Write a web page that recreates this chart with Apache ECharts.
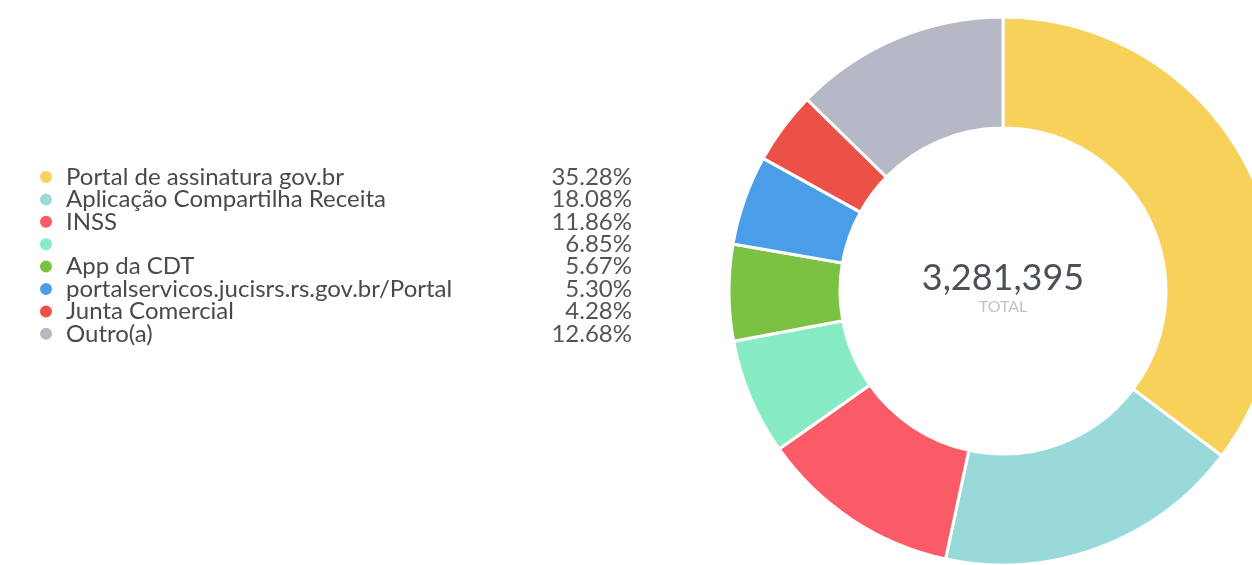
<!DOCTYPE html>
<html>
<head>
<meta charset="utf-8">
<script src="https://cdn.jsdelivr.net/npm/echarts@6/dist/echarts.min.js"></script>
<style>
  html, body { margin: 0; padding: 0; background: #fff; }
  #main { width: 1252px; height: 565px; }
</style>
</head>
<body>
<div id="main"></div>
<script type="text/javascript">
// dados
var nomes = [
    'Portal de assinatura gov.br',
    'Aplicação Compartilha Receita',
    'INSS',
    ' ',
    'App da CDT',
    'portalservicos.jucisrs.rs.gov.br/Portal',
    'Junta Comercial',
    'Outro(a)'
];
var percentuais = [35.28, 18.08, 11.86, 6.85, 5.67, 5.30, 4.28, 12.68];
var cores = ['#F8D15A', '#98DADA', '#FB5A67', '#87EBC4', '#7CC242', '#4A9EE8', '#EC5148', '#B6B9C5'];
var totalTexto = '3,281,395';
var totalRotulo = 'TOTAL';

var dados = [];
for (var i = 0; i < nomes.length; i++) {
    dados.push({ name: nomes[i], value: percentuais[i] });
}

var myChart = echarts.init(document.getElementById('main'));
myChart.setOption({
    color: cores,
    animation: false,
    legend: {
        orient: 'vertical',
        left: 33,
        top: 160,
        icon: 'circle',
        itemWidth: 14,
        itemHeight: 14,
        itemGap: -1.6,
        selectedMode: false,
        data: nomes,
        formatter: function (name) {
            var idx = nomes.indexOf(name);
            return '{n|' + name + '}{p|' + percentuais[idx].toFixed(2) + '%}';
        },
        textStyle: {
            rich: {
                n: {
                    fontFamily: 'Lato',
                    fontSize: 24,
                    color: '#4a4a4a',
                    width: 466,
                    padding: [0, 0, 0, 8]
                },
                p: {
                    fontFamily: 'Lato',
                    fontSize: 24,
                    color: '#555',
                    width: 100,
                    align: 'right'
                }
            }
        }
    },
    graphic: [
        {
            type: 'text',
            x: 1003,
            y: 278,
            style: {
                text: totalTexto,
                fontFamily: 'Lato',
                fontSize: 36,
                fill: '#4a4f5a',
                align: 'center',
                verticalAlign: 'middle'
            }
        },
        {
            type: 'text',
            x: 1003,
            y: 307,
            style: {
                text: totalRotulo,
                fontFamily: 'Lato',
                fontSize: 16,
                fill: '#c2c2c2',
                align: 'center',
                verticalAlign: 'middle'
            }
        }
    ],
    series: [
        {
            type: 'pie',
            center: [1003, 291],
            radius: [163, 274],
            startAngle: 90,
            clockwise: true,
            label: { show: false },
            labelLine: { show: false },
            itemStyle: {
                borderColor: '#fff',
                borderWidth: 3
            },
            emphasis: { disabled: true },
            data: dados
        }
    ]
});
</script>
</body>
</html>
